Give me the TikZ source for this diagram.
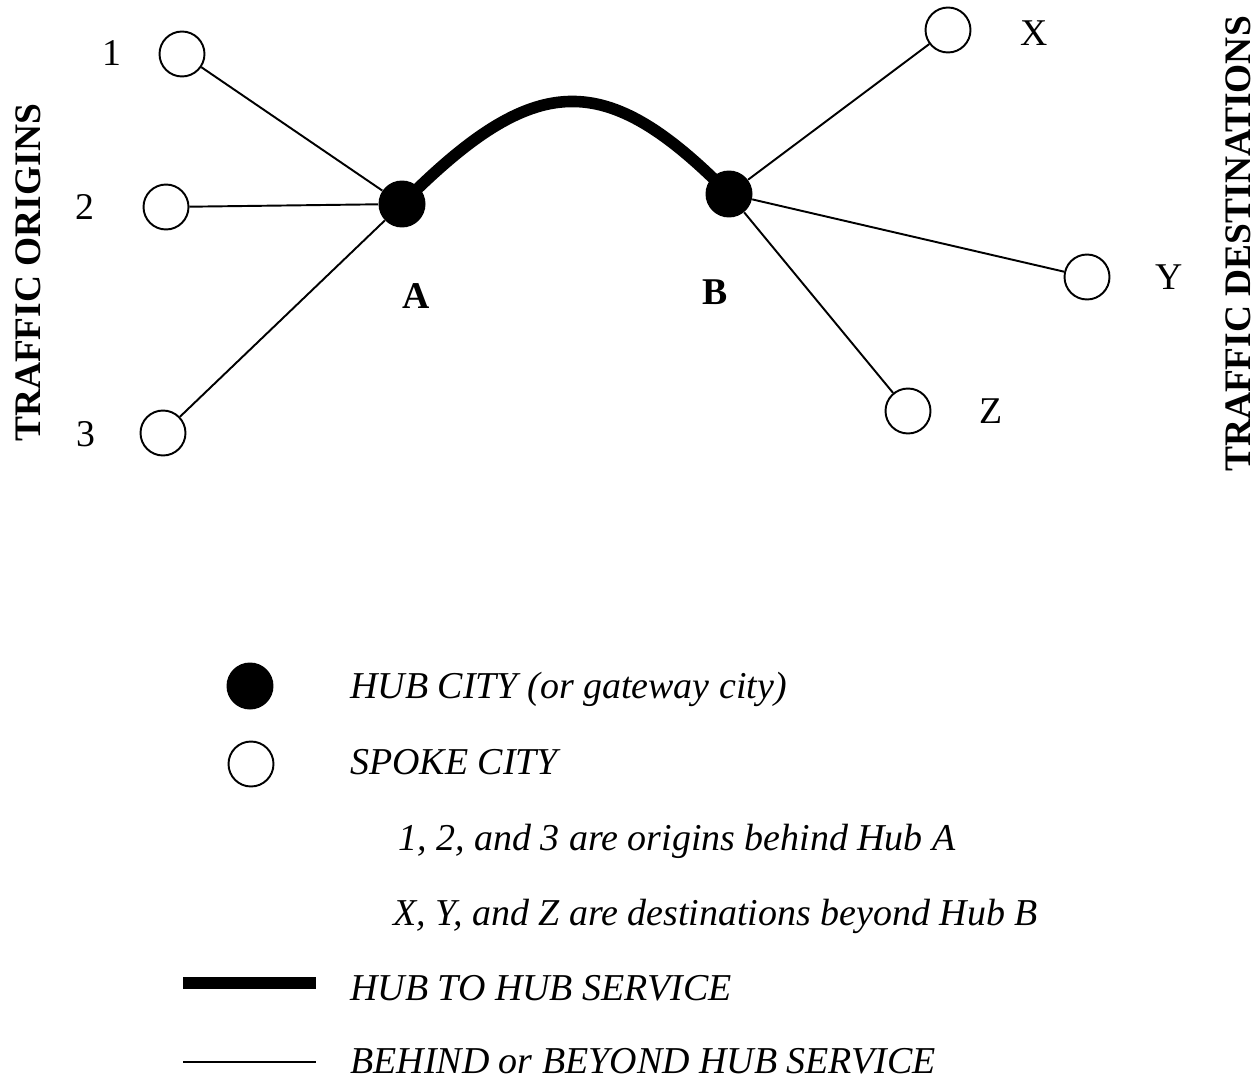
\documentclass[tikz,border=0pt]{standalone}
\usepackage{fontspec}
\setmainfont{Liberation Serif}

\tikzset{
  hub/.style={circle, fill=black, inner sep=0pt, minimum size=0.94cm},
  spoke/.style={circle, draw, line width=1.1pt, fill=white, inner sep=0pt, minimum size=0.9cm},
  link/.style={line width=1.1pt},
  hublink/.style={line width=6.6pt},
  citylabel/.style={inner sep=0pt, font=\fontsize{21.5}{26}\selectfont},
  hublabel/.style={inner sep=0pt, font=\fontsize{21.5}{26}\selectfont\bfseries},
  sidelabel/.style={inner sep=0pt, rotate=90, font=\fontsize{21.3}{25}\selectfont\bfseries},
  keytext/.style={inner sep=0pt, anchor=base west, font=\fontsize{21.6}{26}\selectfont\itshape}
}

\begin{document}
\begin{tikzpicture}[x=0.02cm, y=-0.02cm]
    \useasboundingbox (0,0) rectangle (1260,1081);

    % the two hubs
    \node[hub] (A) at (402,204) {};
    \node[hub] (B) at (729,194) {};

    % spoke cities behind A and beyond B
    \foreach \n/\x/\y in {1/182/54, 2/166/207, 3/163/433}
    \node[spoke] (o\n) at (\x,\y) {};
    \foreach \n/\x/\y in {X/948/30, Y/1087/277, Z/908/411}
    \node[spoke] (d\n) at (\x,\y) {};

    \foreach \n in {1,2,3}
    \draw[link] (o\n) -- (A);
    \foreach \n in {X,Y,Z}
    \draw[link] (B) -- (d\n);
    \draw[hublink] (A.center) .. controls (535,70) and (605,68) .. (B.center);

    % city names
    \node[citylabel] (n1) at (112,53) {1};
    \node[citylabel] (n2) at (85,207) {2};
    \node[citylabel] (n3) at (86,434) {3};
    \node[citylabel] (nX) at (1034,33) {X};
    \node[citylabel] (nY) at (1169,277) {Y};
    \node[citylabel] (nZ) at (991,411) {Z};
    \node[hublabel] (nA) at (416,296) {A};
    \node[hublabel] (nB) at (715,292) {B};

    \node[sidelabel] (orig) at (28,273) {TRAFFIC ORIGINS};
    \node[sidelabel] (dest) at (1238,244) {TRAFFIC DESTINATIONS};

    % key
    \node[hub] (khub) at (250,686) {};
    \node[spoke] (kspoke) at (251,764) {};
    \coordinate (kt1) at (183,983);
    \coordinate (kt2) at (316,983);
    \coordinate (kl1) at (183,1062);
    \coordinate (kl2) at (316,1062);
    \draw[line width=6.8pt] (kt1) -- (kt2);
    \draw[link] (kl1) -- (kl2);

    \node[keytext] (k1) at (350,698) {HUB CITY (or gateway city)};
    \node[keytext] (k2) at (350,774) {SPOKE CITY};
    \node[keytext] (k3) at (398,850) {1, 2, and 3 are origins behind Hub A};
    \node[keytext] (k4) at (393,925) {X, Y, and Z are destinations beyond Hub B};
    \node[keytext] (k5) at (350,1000) {HUB TO HUB SERVICE};
    \node[keytext] (k6) at (350,1073) {BEHIND or BEYOND HUB SERVICE};
\end{tikzpicture}
\end{document}
